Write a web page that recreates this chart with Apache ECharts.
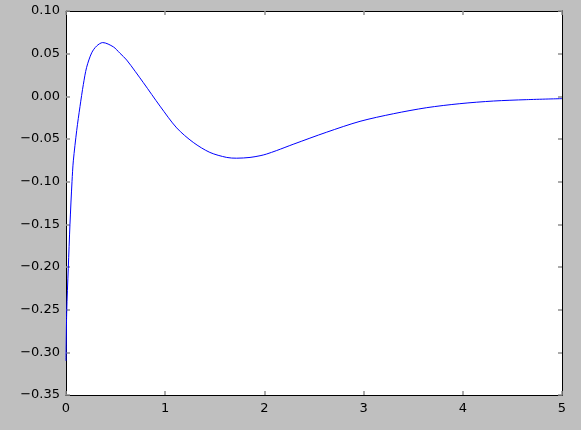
<!DOCTYPE html>
<html>
<head>
    <meta charset="utf-8">
    <title>Curve | ECharts</title>
    <script src="https://cdn.jsdelivr.net/npm/echarts@6/dist/echarts.min.js"></script>
    <style>
        html, body { margin: 0; padding: 0; background: #bfbfbf; }
    </style>
</head>
<body>
    <div id="main" style="width: 581px;height:430px;"></div>
    <script type="text/javascript">
        // values
        var xValues = [0, 0.007, 0.023, 0.040, 0.0605, 0.074, 0.108, 0.141, 0.175, 0.208, 0.259, 0.309, 0.37,
                       0.477, 0.544, 0.612, 0.78, 0.948, 1.116, 1.283, 1.45, 1.62, 1.72, 1.855, 1.956,
                       2.02, 2.124, 2.29, 2.628, 2.964, 3.3, 3.636, 3.97, 4.31, 4.64, 5.0];
        var yValues = [-0.31, -0.253, -0.2015, -0.150, -0.100, -0.0756, -0.040, -0.012, 0.014, 0.034, 0.051, 0.059, 0.063,
                       0.058, 0.0505, 0.0425, 0.016, -0.0115, -0.037, -0.054, -0.0657, -0.0716, -0.0725, -0.0716, -0.0696,
                       -0.0677, -0.0635, -0.0562, -0.042, -0.0293, -0.0204, -0.0133, -0.0086, -0.0055, -0.0039, -0.0027];

        var points = xValues.map(function (x, i) { return [x, yValues[i]]; });

        var myChart = echarts.init(document.getElementById('main'));

        var fnt = 'DejaVu Sans';
        function yFmt(v) {
            var s = Math.abs(v).toFixed(2);
            return (v < -1e-9 ? '\u2212' : '') + s;
        }
        // matplotlib-like ticks: short, grey, pointing into the plot
        var tickStyle = { show: true, inside: true, length: 4, lineStyle: { color: '#909090', width: 1.5 } };
        var frameLine = { show: true, onZero: false, lineStyle: { color: '#000000', width: 1 } };

        var option = {
            backgroundColor: '#bfbfbf',
            animation: false,
            grid: {
                left: 66, right: 19, top: 11, bottom: 35,
                show: true, backgroundColor: '#ffffff', borderWidth: 0
            },
            xAxis: [
                {
                    type: 'value', min: 0, max: 5, interval: 1,
                    axisLine: frameLine,
                    axisTick: tickStyle,
                    splitLine: { show: false },
                    axisLabel: { color: '#000', fontFamily: fnt, fontSize: 13, margin: 7 }
                },
                {
                    type: 'value', position: 'top', min: 0, max: 5, interval: 1,
                    axisLine: frameLine,
                    axisTick: tickStyle,
                    splitLine: { show: false },
                    axisLabel: { show: false }
                }
            ],
            yAxis: [
                {
                    type: 'value', position: 'left', min: -0.35, max: 0.10, interval: 0.05,
                    axisLine: frameLine,
                    axisTick: tickStyle,
                    splitLine: { show: false },
                    axisLabel: { color: '#000', fontFamily: fnt, fontSize: 13, margin: 6, formatter: yFmt }
                },
                {
                    type: 'value', position: 'right', min: -0.35, max: 0.10, interval: 0.05,
                    axisLine: frameLine,
                    axisTick: tickStyle,
                    splitLine: { show: false },
                    axisLabel: { show: false }
                }
            ],
            series: [
                {
                    type: 'line',
                    data: points,
                    showSymbol: false,
                    smooth: 0.3,
                    lineStyle: { color: '#0000ff', width: 1 }
                }
            ]
        };

        myChart.setOption(option);
    </script>
</body>
</html>
